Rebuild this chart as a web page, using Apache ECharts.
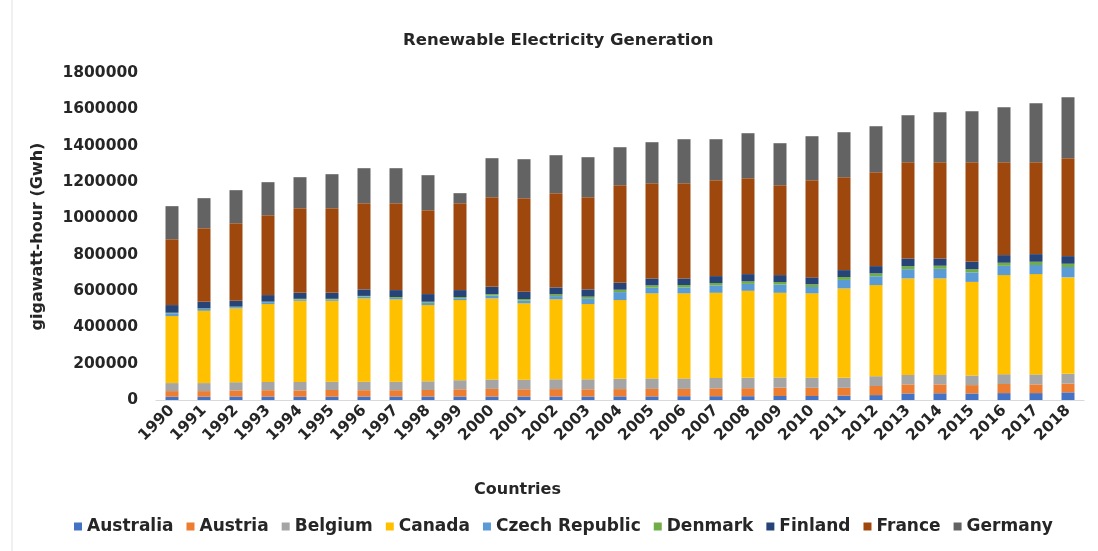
<!DOCTYPE html>
<html>
<head>
<meta charset="utf-8">
<script src="https://cdn.jsdelivr.net/npm/echarts@6/dist/echarts.min.js"></script>
<style>
html,body{margin:0;padding:0;background:#fff;}
#chart{width:1098px;height:551px;}
</style>
</head>
<body>
<div id="chart"></div>
<script>
const years = ['1990','1991','1992','1993','1994','1995','1996','1997','1998','1999','2000','2001','2002','2003','2004','2005','2006','2007','2008','2009','2010','2011','2012','2013','2014','2015','2016','2017','2018'];
const seriesNames = ['Australia','Austria','Belgium','Canada','Czech Republic','Denmark','Finland','France','Germany'];
const seriesColors = ['#4472C4','#ED7D31','#A5A5A5','#FFC000','#5B9BD5','#70AD47','#264478','#9E480E','#636363'];

const australia = [18000,18000,19000,19000,18000,18000,19000,19000,19000,19000,19000,19000,19000,19000,20000,20000,21000,21000,21000,22000,22000,24000,27000,36000,37000,36000,38000,38000,42000];
const austria = [31000,31000,34000,35000,35000,37000,35000,35000,36000,40000,42000,40000,41000,40000,40000,41000,40000,43000,44000,46000,45000,43000,50000,50000,49000,46000,50000,48000,48000];
const belgium = [44000,44000,45000,45000,46000,46000,47000,47000,48000,50000,52000,53000,54000,55000,57000,58000,58000,57000,57000,56000,56000,55000,54000,52000,52000,53000,54000,55000,54000];
const canada = [369000,398000,406000,429000,447000,445000,458000,453000,419500,441000,446000,420000,440000,414000,433000,468000,468000,469000,479000,466000,464000,492000,501500,531000,531000,515000,545500,552000,531000];
const czech = [15500,10500,7000,10500,7000,7000,10000,8000,12500,10000,16000,15000,18000,29000,44000,31000,33000,41000,38000,45500,35000,47000,48500,51000,53000,52500,51000,50000,57000];
const denmark = [3000,3000,3000,3000,4000,4000,4000,5000,6000,7000,8000,9000,10000,12000,13000,13000,13000,13000,14000,14000,15000,16000,16000,17000,17000,18000,17000,18000,18000];
const finland = [42000,36000,32000,36000,33000,33000,36000,38000,42000,38000,40000,40000,38000,40000,38000,38000,36000,38000,40000,38000,38000,38000,40000,42000,40000,40000,42000,42000,42000];
const france = [363000,405500,427500,440000,466000,466000,474500,478500,462000,478500,493500,515000,518500,507500,537500,524500,524500,528000,528000,495000,535000,511500,517000,530000,530000,548500,511500,506000,539000];
const germany = [181500,165000,181500,181500,170500,187000,192500,192500,192500,55000,214500,214500,209000,220000,209000,225500,242000,225500,247500,231000,242000,247500,253000,258500,275000,280500,302500,324500,335500];

const yTicks = [0,200000,400000,600000,800000,1000000,1200000,1400000,1600000,1800000];

const seriesData = [australia,austria,belgium,canada,czech,denmark,finland,france,germany];
const FONT = 'DejaVu Sans';
const TXT = '#262626';

const chart = echarts.init(document.getElementById('chart'), null, {renderer:'canvas'});
chart.setOption({
  animation:false,
  color: seriesColors,
  title:[{
    text:'Renewable Electricity Generation',
    left:403, top:32, padding:0,
    textStyle:{fontFamily:FONT, fontWeight:'bold', fontSize:16.5, color:TXT}
  },{
    text:'Countries',
    left:474, top:482, padding:0,
    textStyle:{fontFamily:FONT, fontWeight:'bold', fontSize:16, color:TXT}
  }],
  grid:{left:156, right:14, top:73, bottom:151},
  legend:{
    data: seriesNames,
    top: 518, left:74, padding:0,
    itemWidth:8, itemHeight:8, itemGap:13,
    icon:'rect',
    textStyle:{fontFamily:FONT, fontWeight:'bold', fontSize:17, color:TXT}
  },
  xAxis:{
    type:'category', data: years,
    axisLine:{lineStyle:{color:'#d9d9d9'}},
    axisTick:{show:false},
    axisLabel:{rotate:45, margin:8, interval:0, fontFamily:FONT, fontWeight:'bold', fontSize:15.5, color:TXT}
  },
  yAxis:{
    type:'value', min:0, max:1800000, interval:200000,
    name:'gigawatt-hour (Gwh)', nameLocation:'middle', nameGap:110, nameRotate:90,
    nameTextStyle:{fontFamily:FONT, fontWeight:'bold', fontSize:16, color:TXT},
    axisLine:{show:false}, axisTick:{show:false},
    splitLine:{show:false},
    axisLabel:{margin:18, fontFamily:FONT, fontWeight:'bold', fontSize:15.5, color:TXT,
      formatter: v => yTicks.includes(v) ? String(v) : ''}
  },
  graphic:[{type:'line', shape:{x1:12,y1:0,x2:12,y2:551}, style:{stroke:'#e0e0e0', lineWidth:1}}],
  series: seriesNames.map((n,i)=>({
    name:n, type:'bar', stack:'total', data: seriesData[i], barWidth:13,
    itemStyle:{color:seriesColors[i]}
  }))
});
</script>
</body>
</html>
